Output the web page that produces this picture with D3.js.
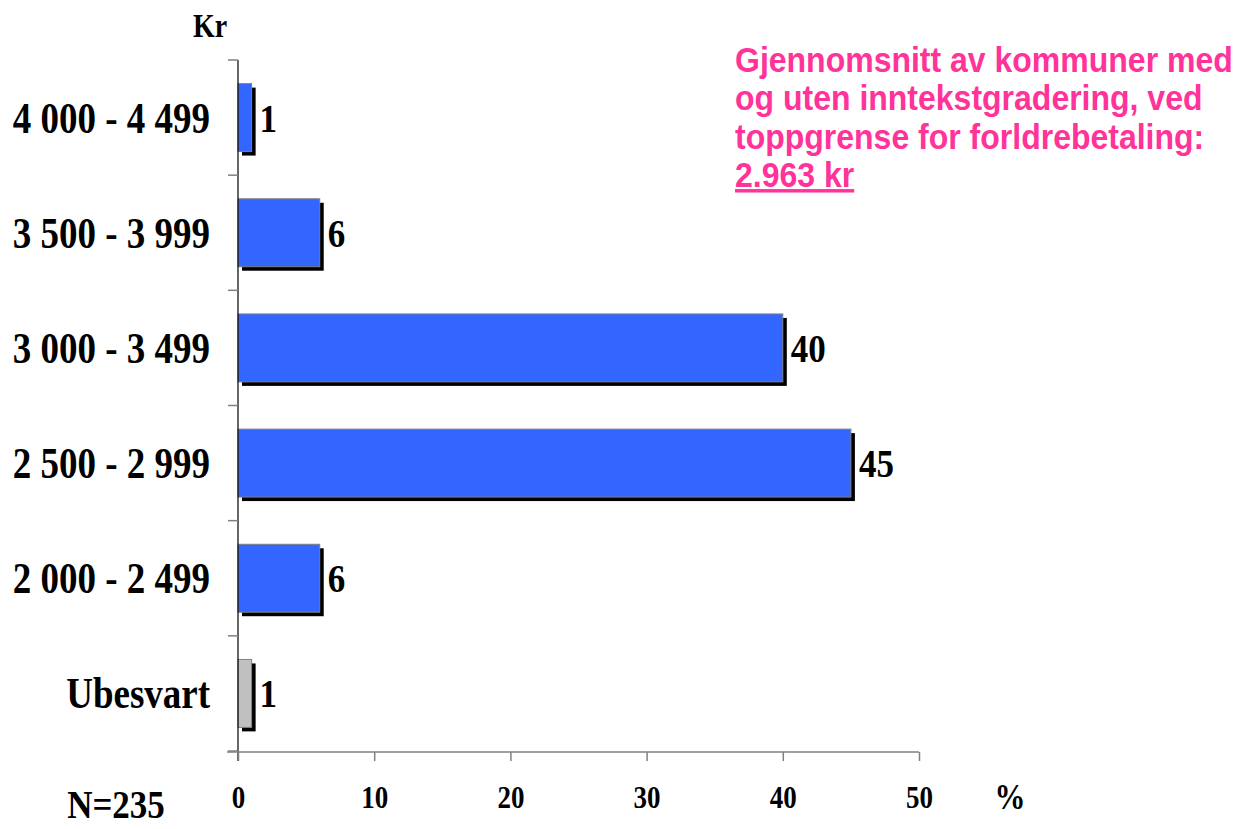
<!DOCTYPE html>
<html>
<head>
<meta charset="utf-8">
<script src="https://cdn.jsdelivr.net/npm/d3@7"></script>
<style>
  body { margin: 0; background: #fff; }
  svg text { font-family: "Liberation Serif", "Times New Roman", serif; font-weight: bold; }
</style>
</head>
<body>
<svg id="chart" width="1244" height="829"></svg>
<script>
// data
const categories = ["4 000 - 4 499", "3 500 - 3 999", "3 000 - 3 499", "2 500 - 2 999", "2 000 - 2 499", "Ubesvart"];
const values = [1, 6, 40, 45, 6, 1];
const barColors = ["#3366ff", "#3366ff", "#3366ff", "#3366ff", "#3366ff", "#c0c0c0"];
const xTicks = [0, 10, 20, 30, 40, 50];
const noteLines = ["Gjennomsnitt av kommuner med", "og uten inntekstgradering, ved", "toppgrense for forldrebetaling:"];
const noteValue = "2.963 kr";

const svg = d3.select("#chart");

const x = d3.scaleLinear().domain([0, 50]).range([238, 919]);
const y = d3.scaleBand().domain(categories).range([60, 751]).paddingInner(0.41).paddingOuter(0.205);

// text that is a bit taller than wide, like the original
const stretch = 1.17;
const tall = (sel, px, py) => sel.attr("transform", `translate(${px},${py}) scale(1,${stretch})`);

// bars: shadow first, then fill
const bars = svg.selectAll(".bar").data(categories).enter().append("g").attr("class", "bar");

bars.append("rect")
  .attr("x", d => x(0) + 4)
  .attr("y", d => y(d) + 4)
  .attr("width", (d, i) => x(values[i]) - x(0))
  .attr("height", y.bandwidth())
  .style("fill", "#000");

bars.append("rect")
  .attr("x", x(0))
  .attr("y", d => y(d))
  .attr("width", (d, i) => x(values[i]) - x(0))
  .attr("height", y.bandwidth())
  .style("fill", (d, i) => barColors[i])
  .style("stroke", "#808080")
  .style("stroke-width", 1);

bars.append("text")
  .each(function(d, i) {
    tall(d3.select(this), x(values[i]) + 8, y(d) + y.bandwidth() / 2 + 14);
  })
  .style("font-size", "35px")
  .text((d, i) => values[i]);

// y axis with ticks between categories
const yBounds = d3.range(categories.length + 1).map(i => 60 + i * (751 - 60) / categories.length);
svg.append("line").attr("x1", 238).attr("x2", 238).attr("y1", 60).attr("y2", 761)
  .style("stroke", "#000").style("stroke-width", 1.2);
svg.selectAll(".ytick").data(yBounds).enter().append("line")
  .attr("x1", 228).attr("x2", 238).attr("y1", d => d).attr("y2", d => d)
  .style("stroke", "#808080").style("stroke-width", 1.5);

svg.selectAll(".ylab").data(categories).enter().append("text")
  .each(function(d) { tall(d3.select(this), 210, y(d) + y.bandwidth() / 2 + 15); })
  .attr("text-anchor", "end")
  .style("font-size", "37px")
  .text(d => d);

// x axis
const xAxis = svg.append("g").attr("transform", "translate(0,752)")
  .call(d3.axisBottom(x).tickValues(xTicks).tickSize(9).tickFormat(d3.format("d")));
xAxis.select(".domain").attr("d", "M227,0H919").style("stroke", "#808080").style("stroke-width", 1.5);
xAxis.selectAll(".tick line").style("stroke", "#808080").style("stroke-width", 1.5);
xAxis.selectAll(".tick text")
  .attr("y", null).attr("dy", null)
  .attr("transform", `translate(0,56) scale(1,${stretch})`)
  .style("font-size", "27px")
  .style("font-family", "'Liberation Serif', serif")
  .style("font-weight", "bold");

tall(svg.append("text"), 1010, 809).attr("text-anchor", "middle")
  .style("font-size", "31px").text("%");
tall(svg.append("text"), 116, 818).attr("text-anchor", "middle")
  .style("font-size", "35px").text("N=235");
tall(svg.append("text"), 210, 37).attr("text-anchor", "middle")
  .style("font-size", "28px").text("Kr");

// annotation
const note = svg.append("g").style("fill", "#ff3399");
note.selectAll("text").data(noteLines).enter().append("text")
  .attr("transform", (d, i) => `translate(735,${72 + i * 38.3}) scale(1,1.08)`)
  .style("font-family", "'Liberation Sans', Arial, sans-serif")
  .style("font-size", "32px")
  .text(d => d);
note.append("text")
  .attr("transform", "translate(735,187) scale(1,1.08)")
  .style("font-family", "'Liberation Sans', Arial, sans-serif")
  .style("font-size", "32px")
  .style("text-decoration", "underline")
  .text(noteValue);
</script>
</body>
</html>
